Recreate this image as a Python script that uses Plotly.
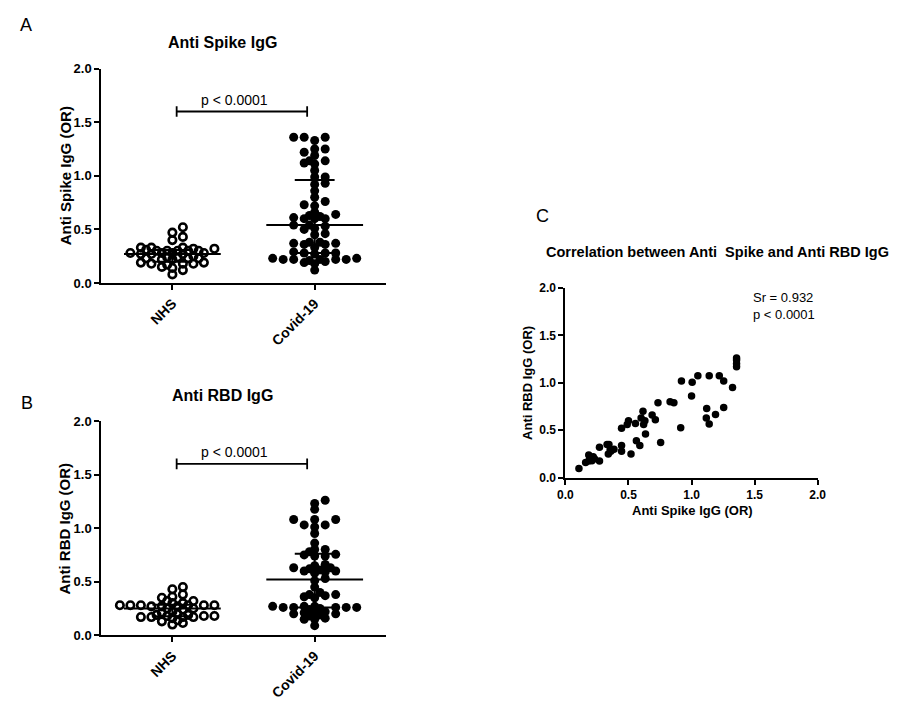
import numpy as np
import plotly.graph_objects as go

# ---------------- data (optical ratio, OR) ----------------
groups = ["NHS", "Covid-19"]

spike_nhs = [0.52, 0.47, 0.43, 0.40, 0.33, 0.33, 0.32, 0.33, 0.32, 0.30, 0.30, 0.30,
             0.31, 0.30, 0.30, 0.27, 0.28, 0.28, 0.27, 0.28, 0.25, 0.28, 0.27, 0.24,
             0.23, 0.23, 0.22, 0.23, 0.24, 0.22, 0.19, 0.18, 0.18, 0.17, 0.19, 0.18,
             0.15, 0.14, 0.12, 0.08]
spike_covid = [1.36, 1.36, 1.36, 1.33, 1.25, 1.25, 1.22, 1.19, 1.14, 1.12, 1.11, 1.14,
               1.05, 0.99, 0.99, 0.93, 0.92, 0.86, 0.80, 0.76, 0.72, 0.73, 0.66, 0.62,
               0.60, 0.60, 0.61, 0.63, 0.64, 0.60, 0.54, 0.53, 0.54, 0.51, 0.50, 0.46,
               0.45, 0.38, 0.36, 0.37, 0.36, 0.37, 0.38, 0.33, 0.28, 0.28, 0.27, 0.28,
               0.29, 0.22, 0.22, 0.23, 0.21, 0.22, 0.22, 0.23, 0.22, 0.19, 0.20, 0.18,
               0.12]

rbd_nhs = [0.45, 0.43, 0.38, 0.36, 0.35, 0.32, 0.32, 0.30, 0.28, 0.28, 0.30, 0.27,
           0.28, 0.27, 0.28, 0.28, 0.28, 0.27, 0.25, 0.25, 0.24, 0.19, 0.18, 0.17,
           0.17, 0.16, 0.19, 0.18, 0.17, 0.17, 0.18, 0.21, 0.22, 0.20, 0.10, 0.115,
           0.14, 0.13]
rbd_covid = [1.26, 1.23, 1.175, 1.08, 1.08, 1.08, 1.03, 1.01, 1.03, 0.95, 0.86, 0.80,
             0.80, 0.78, 0.755, 0.75, 0.74, 0.74, 0.66, 0.63, 0.60, 0.61, 0.58, 0.65,
             0.59, 0.60, 0.62, 0.63, 0.53, 0.51, 0.45, 0.40, 0.35, 0.37, 0.36, 0.38,
             0.38, 0.27, 0.26, 0.26, 0.27, 0.25, 0.26, 0.26, 0.27, 0.26, 0.24, 0.21,
             0.22, 0.20, 0.15, 0.21, 0.16, 0.18, 0.20, 0.19, 0.15, 0.09]

# paired values of Covid-19 sera
corr_spike = [0.107, 0.16, 0.185, 0.185, 0.20, 0.21, 0.22, 0.23, 0.27, 0.27, 0.33, 0.345,
              0.34, 0.36, 0.355, 0.385, 0.445, 0.445, 0.445, 0.49, 0.50, 0.52, 0.555,
              0.5625, 0.59, 0.60, 0.615, 0.62, 0.63, 0.635, 0.6875, 0.713, 0.734, 0.755,
              0.83, 0.86, 0.914, 0.92, 1.0, 1.005, 1.05, 1.117, 1.12, 1.14, 1.14, 1.19,
              1.22, 1.255, 1.255, 1.325, 1.357, 1.357, 1.357, 1.357]
corr_rbd = [0.096, 0.16, 0.175, 0.24, 0.20, 0.18, 0.22, 0.20, 0.175, 0.32, 0.35, 0.35,
            0.25, 0.28, 0.30, 0.30, 0.34, 0.28, 0.52, 0.56, 0.60, 0.25, 0.57,
            0.39, 0.34, 0.63, 0.70, 0.56, 0.60, 0.46, 0.66, 0.61, 0.79, 0.37,
            0.80, 0.79, 0.526, 1.02, 0.86, 1.007, 1.075, 0.63, 0.73, 0.567, 1.075, 0.667,
            1.075, 1.02, 0.74, 0.95, 1.26, 1.24, 1.20, 1.17]

p_text = "p &lt; 0.0001"
spearman_text = "Sr = 0.932<br>p &lt; 0.0001"
y_ticks = [0.0, 0.5, 1.0, 1.5, 2.0]

# ---------------- layout geometry (pixel positions on a 914 x 702 page) ----------------
W, H = 914, 702
FONT = "Liberation Sans, Arial, sans-serif"


def fx(p):
    return p / W


def fy(p):
    return 1 - p / H


dom_x_ab = [fx(95), fx(385)]
dom_y_a = [fy(282), fy(63)]
dom_y_b = [fy(642), fy(423)]
dom_x_c = [fx(568), fx(825)]
dom_y_c = [fy(481), fy(287)]

X_PPU = (385 - 95) / 2.0     # pixels per x unit in the dot plots
Y_PPU = (282 - 63) / 2.0     # pixels per y unit


def swarm_offsets(values, step_px=10.7, col_gap=6.0, half_gap=2.0):
    """Column-scatter layout on a half-step grid. Whole columns are preferred;
    a point shares a column only with points >= col_gap px away vertically and
    a neighbouring half column only with points >= half_gap px away."""
    vals = np.asarray(values, float)
    order = np.argsort(vals, kind="stable")
    placed = []
    offs = np.zeros(len(vals))
    half = step_px / 2

    ks = sorted(range(-40, 41), key=lambda k: (abs(k) + (1.2 if k % 2 else 0), k))

    def clash(c, ypx):
        for px, py in placed:
            adx, ady = abs(c - px), abs(ypx - py)
            if adx < 0.5 * half and ady < col_gap:
                return True
            if 0.5 * half <= adx < 1.5 * half and ady < half_gap:
                return True
        return False

    for n, i in enumerate(order):
        ypx = vals[i] * Y_PPU
        sign = 1 if n % 2 == 0 else -1
        for k in ks:
            c = sign * k * half
            if not clash(c, ypx):
                break
        placed.append((c, ypx))
        offs[i] = c / X_PPU
    return offs


fig = go.Figure()


def add_dot_panel(xa, ya, nhs, covid):
    nhs_x = 0 + swarm_offsets(nhs)
    cov_x = 1 + swarm_offsets(covid)
    fig.add_trace(go.Scatter(
        x=nhs_x, y=nhs, mode="markers", xaxis=xa, yaxis=ya, showlegend=False,
        marker=dict(symbol="circle-open", size=7.5, color="black",
                    line=dict(width=2.6, color="black"))))
    fig.add_trace(go.Scatter(
        x=cov_x, y=covid, mode="markers", xaxis=xa, yaxis=ya, showlegend=False,
        marker=dict(symbol="circle", size=9, color="black", line=dict(width=0))))
    # median with interquartile range
    for gi, vals in enumerate([nhs, covid]):
        q1, med, q3 = np.percentile(vals, [25, 50, 75], method="weibull")
        xs = [gi - 0.34, gi + 0.34, None, gi - 0.14, gi + 0.14, None,
              gi - 0.14, gi + 0.14, None, gi, gi]
        ys = [med, med, None, q1, q1, None, q3, q3, None, q1, q3]
        fig.add_trace(go.Scatter(x=xs, y=ys, mode="lines", xaxis=xa, yaxis=ya,
                                 showlegend=False, line=dict(color="black", width=2)))
    # significance bracket
    fig.add_trace(go.Scatter(
        x=[0.03, 0.03, None, 0.03, 0.947, None, 0.947, 0.947],
        y=[1.55, 1.65, None, 1.60, 1.60, None, 1.55, 1.65],
        mode="lines", xaxis=xa, yaxis=ya, showlegend=False,
        line=dict(color="black", width=1.8)))
    xref = "x" if xa == "x" else "x" + xa[1:]
    yref = "y" if ya == "y" else "y" + ya[1:]
    fig.add_annotation(x=0.434, y=1.71, xref=xref, yref=yref, text=p_text,
                       showarrow=False, xanchor="center", yanchor="middle",
                       font=dict(family=FONT, size=14, color="black"))


add_dot_panel("x", "y", spike_nhs, spike_covid)
add_dot_panel("x2", "y2", rbd_nhs, rbd_covid)

fig.add_trace(go.Scatter(
    x=corr_spike, y=corr_rbd, mode="markers", xaxis="x3", yaxis="y3", showlegend=False,
    marker=dict(symbol="circle", size=7.5, color="black", line=dict(width=0))))

axis_common = dict(showline=True, linecolor="black", linewidth=2, ticks="outside",
                   ticklen=5, tickwidth=2, tickcolor="black", showgrid=False,
                   zeroline=False, mirror=False)
tick_bold = dict(family=FONT, size=13, color="black", weight="bold")
tick_bold_c = dict(family=FONT, size=12, color="black", weight="bold")

cat_x = dict(axis_common, range=[-0.5, 1.5], tickmode="array", tickvals=[0, 1],
             ticktext=groups, tickangle=-45,
             tickfont=dict(family=FONT, size=14, color="black", weight="bold"))
num_y = dict(axis_common, range=[0, 2], tickmode="array", tickvals=y_ticks,
             tickformat=".1f", tickfont=tick_bold)

fig.update_layout(
    width=W, height=H, margin=dict(l=0, r=0, t=0, b=0),
    paper_bgcolor="white", plot_bgcolor="white",
    xaxis=dict(cat_x, domain=dom_x_ab, anchor="y"),
    yaxis=dict(num_y, domain=dom_y_a, anchor="x"),
    xaxis2=dict(cat_x, domain=dom_x_ab, anchor="y2"),
    yaxis2=dict(num_y, domain=dom_y_b, anchor="x2"),
    xaxis3=dict(axis_common, domain=dom_x_c, anchor="y3", range=[0, 2],
                tickmode="array", tickvals=y_ticks, tickformat=".1f",
                tickfont=tick_bold_c),
    yaxis3=dict(num_y, domain=dom_y_c, anchor="x3", tickfont=tick_bold_c),
)


def label(x, y, text, size, bold=True, angle=0, xanchor="center", align="center"):
    fig.add_annotation(x=fx(x), y=fy(y), xref="paper", yref="paper", text=text,
                       showarrow=False, xanchor=xanchor, yanchor="middle",
                       textangle=angle, align=align,
                       font=dict(family=FONT, size=size, color="black",
                                 weight="bold" if bold else "normal"))


# panel letters
label(18, 18, "A", 18, bold=False)
label(19, 405, "B", 18, bold=False)
label(545, 214, "C", 18, bold=False)

# panel titles
label(219, 36, "Anti Spike IgG", 16)
label(219, 397, "Anti RBD IgG", 16)
label(546, 250, "Correlation between Anti\u00a0 Spike and Anti RBD IgG", 14.5, xanchor="left")

# axis titles
label(58, 172, "Anti Spike IgG (OR)", 15, angle=-90)
label(58, 533, "Anti RBD IgG (OR)", 15, angle=-90)
label(697, 514, "Anti Spike IgG (OR)", 13)
label(530, 384, "Anti RBD IgG (OR)", 13, angle=-90)

# correlation statistics
label(757, 306, spearman_text, 13, bold=False, xanchor="left", align="left")

fig.write_html("out.html")
